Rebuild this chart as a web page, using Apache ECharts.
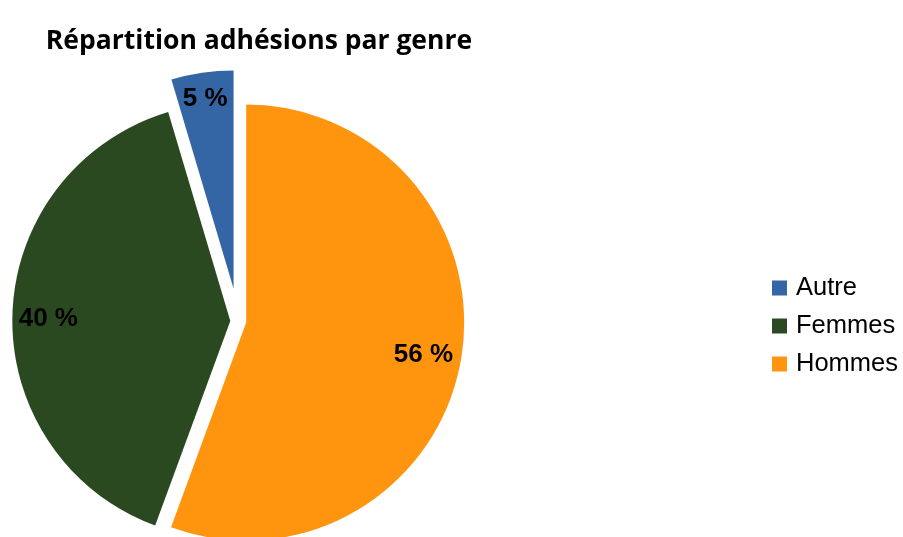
<!DOCTYPE html>
<html><head><meta charset="utf-8">
<script src="https://cdn.jsdelivr.net/npm/echarts@6/dist/echarts.min.js"></script>
<style>html,body{margin:0;padding:0;background:#fff}#c{width:903px;height:537px}</style>
</head><body><div id="c"></div>
<script>
const categories = ['Autre', 'Femmes', 'Hommes'];
const values = [4.6, 39.8, 55.6];
const colors = ['#3465a4', '#2b4920', '#ff950e'];
const explode = [33, 8, 8];
const titleText = 'Répartition adhésions par genre';

const chart = echarts.init(document.getElementById('c'), null, {renderer: 'canvas'});
const total = values.reduce((a, b) => a + b, 0);
const center = [238.3, 321.2];
const R = 218;
const clear = 'rgba(0,0,0,0)';
const offsets = [...new Set(explode)];
const labelShift = [{dx: -2, dy: -9}, {dx: 1, dy: 4}, {dx: -3, dy: 0}];

// one pie per explosion distance; slices not belonging to it are transparent
function group(off, ring) {
  return categories.map((n, i) => ({
    name: n, value: values[i], selected: explode[i] === off,
    itemStyle: {color: (!ring && explode[i] === off) ? colors[i] : clear},
    label: {show: !!ring && explode[i] === off}
  }));
}
const baseSeries = {
  type: 'pie', center: center, startAngle: 90, clockwise: false,
  selectedMode: 'multiple', silent: true, emphasis: {disabled: true},
  itemStyle: {borderWidth: 0}, labelLine: {show: false}
};
const series = [];
offsets.forEach(off => {
  series.push(Object.assign({}, baseSeries, {
    radius: R, selectedOffset: off, label: {show: false}, data: group(off, false)
  }));
});
offsets.forEach(off => {
  series.push(Object.assign({}, baseSeries, {
    radius: [R * 0.652, R], selectedOffset: off,
    label: {
      position: 'inside', fontFamily: 'Liberation Sans', fontWeight: 'bold',
      fontSize: 26, color: '#000',
      formatter: p => Math.round(p.value / total * 100) + ' %'
    },
    labelLayout: p => labelShift[p.dataIndex],
    data: group(off, true)
  }));
});

chart.setOption({
  animation: false,
  backgroundColor: '#ffffff',
  graphic: [{
    type: 'text', x: 259, y: 41,
    style: {text: titleText, textAlign: 'center', textVerticalAlign: 'middle',
      font: 'bold 26.5px "Open Sans"', fill: '#000'}
  }],
  legend: {
    orient: 'vertical', left: 767, top: 270, icon: 'rect',
    itemWidth: 15, itemHeight: 15, itemGap: 12, selectedMode: false,
    data: categories.map((n, i) => ({name: n, itemStyle: {color: colors[i]}})),
    textStyle: {fontFamily: 'Liberation Sans', fontSize: 25.5, lineHeight: 25.5, color: '#000', padding: [0, 0, 0, 4]}
  },
  series: series
});
</script></body></html>
